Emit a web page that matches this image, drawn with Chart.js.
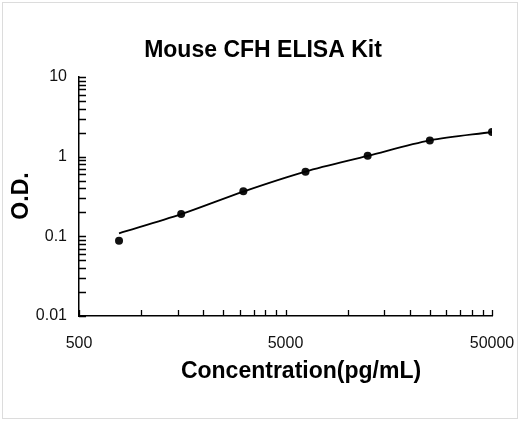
<!DOCTYPE html>
<html>
<head>
<meta charset="utf-8">
<script src="https://cdn.jsdelivr.net/npm/chart.js@4.4.1/dist/chart.umd.min.js"></script>
<style>
  html, body { margin: 0; padding: 0; background: #fff; }
  #wrap { width: 520px; height: 421px; position: relative; }
  canvas { display: block; }
</style>
</head>
<body>
<div id="wrap"><canvas id="c" width="520" height="421"></canvas></div>
<script>
// ---- data ----
const chartTitle = 'Mouse CFH ELISA Kit';
const xTitle = 'Concentration(pg/mL)';
const yTitle = 'O.D.';
const concentrations = [781.25, 1562.5, 3125, 6250, 12500, 25000, 50000];
const odValues = [0.088, 0.191, 0.367, 0.647, 1.028, 1.60, 2.04];
const fitValues = [0.109, 0.190, 0.365, 0.650, 1.020, 1.600, 2.040];
const xTickValues = [500, 1000, 1500, 2000, 2500, 3000, 3500, 4000, 4500, 5000,
                     10000, 15000, 20000, 25000, 30000, 35000, 40000, 45000, 50000];
const xLabelValues = [500, 5000, 50000];
const yTickValues = [0.01, 0.02, 0.03, 0.04, 0.05, 0.06, 0.07, 0.08, 0.09,
                     0.1, 0.2, 0.3, 0.4, 0.5, 0.6, 0.7, 0.8, 0.9,
                     1, 2, 3, 4, 5, 6, 7, 8, 9, 10];
const yLabelValues = [0.01, 0.1, 1, 10];

const FONT = "'Liberation Sans', Arial, sans-serif";

const decorPlugin = {
  id: 'decor',
  beforeDraw(chart) {
    const ctx = chart.ctx;
    ctx.save();
    ctx.fillStyle = '#fff';
    ctx.fillRect(0, 0, chart.width, chart.height);
    ctx.strokeStyle = '#dcdcdc';
    ctx.lineWidth = 1;
    ctx.strokeRect(2.5, 2.5, 515, 416);
    ctx.restore();
  },
  afterDraw(chart) {
    const ctx = chart.ctx;
    const xs = chart.scales.x, ys = chart.scales.y;
    const area = chart.chartArea;
    ctx.save();
    ctx.strokeStyle = '#000';
    ctx.lineWidth = 1.3;
    ctx.beginPath();
    xTickValues.forEach(v => {
      const px = Math.round(xs.getPixelForValue(v)) + 0.5;
      ctx.moveTo(px, area.bottom);
      ctx.lineTo(px, area.bottom - 6);
    });
    yTickValues.forEach(v => {
      const py = Math.round(ys.getPixelForValue(v)) + 0.5;
      ctx.moveTo(area.left, py);
      ctx.lineTo(area.left + 7, py);
    });
    ctx.stroke();

    ctx.fillStyle = '#000';
    ctx.font = 'bold 23px ' + FONT;
    ctx.textAlign = 'center';
    ctx.textBaseline = 'alphabetic';
    ctx.fillText(chartTitle, 263, 57);
    ctx.fillText(xTitle, 301, 378);
    ctx.translate(28, 196);
    ctx.rotate(-Math.PI / 2);
    ctx.fillText(yTitle, 0, 0);
    ctx.restore();
  }
};

new Chart(document.getElementById('c'), {
  type: 'scatter',
  data: {
    datasets: [
      {
        label: 'Fit',
        data: concentrations.map((x, i) => ({ x: x, y: fitValues[i] })),
        showLine: true,
        borderColor: '#000',
        borderWidth: 1.8,
        pointRadius: 0,
        tension: 0.3,
        fill: false
      },
      {
        label: 'OD',
        data: concentrations.map((x, i) => ({ x: x, y: odValues[i] })),
        showLine: false,
        pointRadius: 4,
        pointBackgroundColor: '#111',
        pointBorderColor: '#111',
        pointBorderWidth: 0
      }
    ]
  },
  options: {
    responsive: false,
    animation: false,
    devicePixelRatio: 1,
    layout: { padding: { top: 77, right: 28, left: 0, bottom: 0 } },
    plugins: {
      legend: { display: false },
      title: { display: false },
      tooltip: { enabled: false }
    },
    scales: {
      x: {
        type: 'logarithmic',
        position: 'bottom',
        min: 500,
        max: 50000,
        grid: { display: false, drawTicks: false },
        border: { display: true, color: '#000', width: 1.5 },
        afterBuildTicks: s => { s.ticks = xTickValues.map(v => ({ value: v })); },
        afterFit: s => { s.height = 105; s.paddingLeft = 0; s.paddingRight = 0; },
        ticks: {
          autoSkip: false,
          maxRotation: 0,
          padding: 18,
          color: '#111',
          font: { family: FONT, size: 16 },
          callback: v => xLabelValues.includes(v) ? String(v) : ''
        }
      },
      y: {
        type: 'logarithmic',
        position: 'left',
        min: 0.01,
        max: 10,
        grid: { display: false, drawTicks: false },
        border: { display: true, color: '#000', width: 1.5 },
        afterBuildTicks: s => { s.ticks = yTickValues.map(v => ({ value: v })); },
        afterFit: s => { s.width = 79; s.paddingTop = 0; s.paddingBottom = 0; },
        ticks: {
          autoSkip: false,
          padding: 12,
          color: '#111',
          font: { family: FONT, size: 16 },
          callback: v => yLabelValues.includes(v) ? String(v) : ''
        }
      }
    }
  },
  plugins: [decorPlugin]
});
</script>
</body>
</html>
